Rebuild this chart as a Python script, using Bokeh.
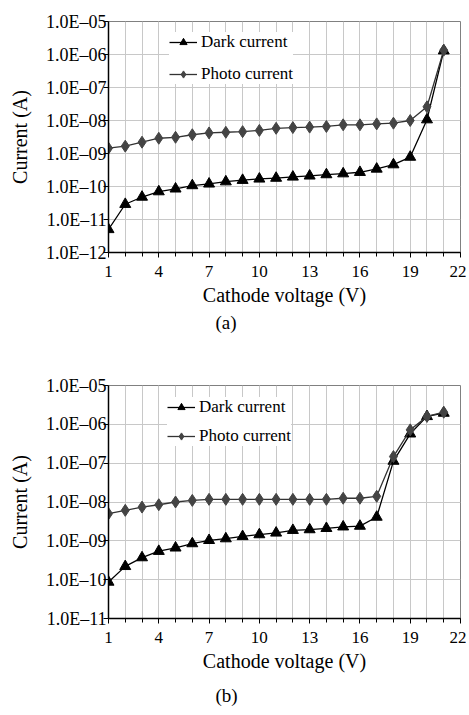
from bokeh.plotting import figure
from bokeh.models import (Range1d, FixedTicker, CustomJSTickFormatter, Legend, LegendItem, Title)
from bokeh.layouts import column
from bokeh.embed import file_html
from bokeh.resources import INLINE

# ---------------- data ----------------
voltage = [1, 2, 3, 4, 5, 6, 7, 8, 9, 10, 11, 12, 13, 14, 15, 16, 17, 18, 19, 20, 21]

dark_a = [5.0e-12, 2.9e-11, 4.8e-11, 7.0e-11, 8.5e-11, 1.07e-10, 1.2e-10, 1.4e-10, 1.55e-10, 1.7e-10,
          1.8e-10, 1.95e-10, 2.1e-10, 2.3e-10, 2.45e-10, 2.7e-10, 3.4e-10, 4.6e-10, 7.8e-10, 1.06e-8, 1.3e-6]
photo_a = [1.45e-9, 1.67e-9, 2.2e-9, 2.9e-9, 3.1e-9, 3.7e-9, 4.2e-9, 4.4e-9, 4.6e-9, 5.0e-9,
           5.8e-9, 6.1e-9, 6.3e-9, 6.6e-9, 7.4e-9, 7.4e-9, 7.9e-9, 8.3e-9, 1.0e-8, 2.6e-8, 1.35e-6]

dark_b = [8.7e-11, 2.2e-10, 3.7e-10, 5.4e-10, 6.6e-10, 8.5e-10, 1.03e-9, 1.14e-9, 1.3e-9, 1.45e-9,
          1.6e-9, 1.87e-9, 1.95e-9, 2.1e-9, 2.3e-9, 2.4e-9, 4.1e-9, 1.13e-7, 5.7e-7, 1.6e-6, 1.95e-6]
photo_b = [5.0e-9, 6.1e-9, 7.4e-9, 8.5e-9, 1.0e-8, 1.1e-8, 1.17e-8, 1.17e-8, 1.17e-8, 1.17e-8,
           1.17e-8, 1.17e-8, 1.17e-8, 1.17e-8, 1.25e-8, 1.25e-8, 1.4e-8, 1.48e-7, 7.2e-7, 1.6e-6, 2.05e-6]

x_ticks = [1, 4, 7, 10, 13, 16, 19, 22]
x_minor = list(range(1, 23))

y_ticks_a = [1e-12, 1e-11, 1e-10, 1e-9, 1e-8, 1e-7, 1e-6, 1e-5]
y_labels_a = ["1.0E\u201312", "1.0E\u201311", "1.0E\u201310", "1.0E\u201309",
              "1.0E\u201308", "1.0E\u201307", "1.0E\u201306", "1.0E\u201305"]
y_ticks_b = [1e-11, 1e-10, 1e-9, 1e-8, 1e-7, 1e-6, 1e-5]
y_labels_b = ["1.0E\u201311", "1.0E\u201310", "1.0E\u201309",
              "1.0E\u201308", "1.0E\u201307", "1.0E\u201306", "1.0E\u201305"]

series_names = ["Dark current", "Photo current"]
x_title = "Cathode voltage (V)"
y_title = "Current (A)"

FONT = "Liberation Serif"
GRID = "#c8c8c8"


def make_fig(dark, photo, y_ticks, y_labels, height, border_top, border_bottom,
             caption, legend_loc, legend_spacing, cap_standoff):
    p = figure(width=466, height=height,
               x_range=Range1d(1, 22), y_range=Range1d(y_ticks[0], y_ticks[-1]),
               y_axis_type="log", output_backend="svg", toolbar_location=None,
               min_border_left=108, min_border_right=6,
               min_border_top=border_top, min_border_bottom=border_bottom)
    p.outline_line_color = "#808080"
    p.outline_line_width = 1
    p.background_fill_color = "white"
    p.border_fill_color = "white"

    xa = p.xaxis[0]
    ya = p.yaxis[0]

    # axes
    xa.ticker = FixedTicker(ticks=x_ticks, minor_ticks=x_minor)
    ya.ticker = FixedTicker(ticks=y_ticks, minor_ticks=[])
    ya.formatter = CustomJSTickFormatter(
        args=dict(tvals=y_ticks, tlabels=y_labels),
        code="""
        for (let i = 0; i < tvals.length; i++) {
            if (Math.abs(Math.log10(tvals[i]) - Math.log10(tick)) < 1e-6) { return tlabels[i]; }
        }
        return "";
        """)
    for ax in (xa, ya):
        ax.axis_line_color = "black"
        ax.axis_line_width = 1.5
        ax.major_tick_line_color = "black"
        ax.major_tick_in = 0
        ax.major_tick_out = 5
        ax.major_label_text_font = FONT
        ax.major_label_text_color = "black"
        ax.axis_label_text_font = FONT
        ax.axis_label_text_font_size = "20px"
        ax.axis_label_text_font_style = "normal"
        ax.axis_label_text_color = "black"
    xa.major_label_text_font_size = "17px"
    ya.major_label_text_font_size = "18px"
    xa.minor_tick_line_color = "black"
    xa.minor_tick_in = 0
    xa.minor_tick_out = 4
    ya.minor_tick_line_color = None
    xa.major_label_standoff = 8
    ya.major_label_standoff = -3
    xa.axis_label = x_title
    ya.axis_label = y_title
    xa.axis_label_standoff = 4
    ya.axis_label_standoff = 12

    # grid
    p.xgrid[0].grid_line_color = GRID
    p.xgrid[0].minor_grid_line_color = GRID
    p.ygrid[0].grid_line_color = GRID

    # series
    l1 = p.line(voltage, dark, line_color="black", line_width=1.3)
    s1 = p.scatter(voltage, dark, marker="triangle", size=11,
                   fill_color="black", line_color="black")
    l2 = p.line(voltage, photo, line_color="#333333", line_width=1.3)
    s2 = p.scatter(voltage, photo, marker="diamond", size=12,
                   fill_color="#444444", line_color="#444444")

    legend = Legend(items=[LegendItem(label=series_names[0], renderers=[l1, s1]),
                           LegendItem(label=series_names[1], renderers=[l2, s2])],
                    location=legend_loc, spacing=legend_spacing,
                    glyph_width=28, glyph_height=18, label_height=18,
                    label_standoff=4, padding=10, margin=0,
                    label_text_font=FONT, label_text_font_size="17px",
                    label_text_color="black",
                    background_fill_color="white", background_fill_alpha=1.0,
                    border_line_color=None)
    p.add_layout(legend)

    cap = Title(text=caption, align="left", offset=107,
                text_font=FONT, text_font_size="19px",
                text_font_style="normal", text_color="black", standoff=cap_standoff)
    p.add_layout(cap, "below")
    return p


pa = make_fig(dark_a, photo_a, y_ticks_a, y_labels_a, 345, 21, 93, "(a)", (61, 168), 12, 3)
pb = make_fig(dark_b, photo_b, y_ticks_b, y_labels_b, 370, 40, 97, "(b)", (59, 172), 9, 16)

layout = column(pa, pb, spacing=0)

with open("out.html", "w", encoding="utf-8") as f:
    f.write(file_html(layout, INLINE))
